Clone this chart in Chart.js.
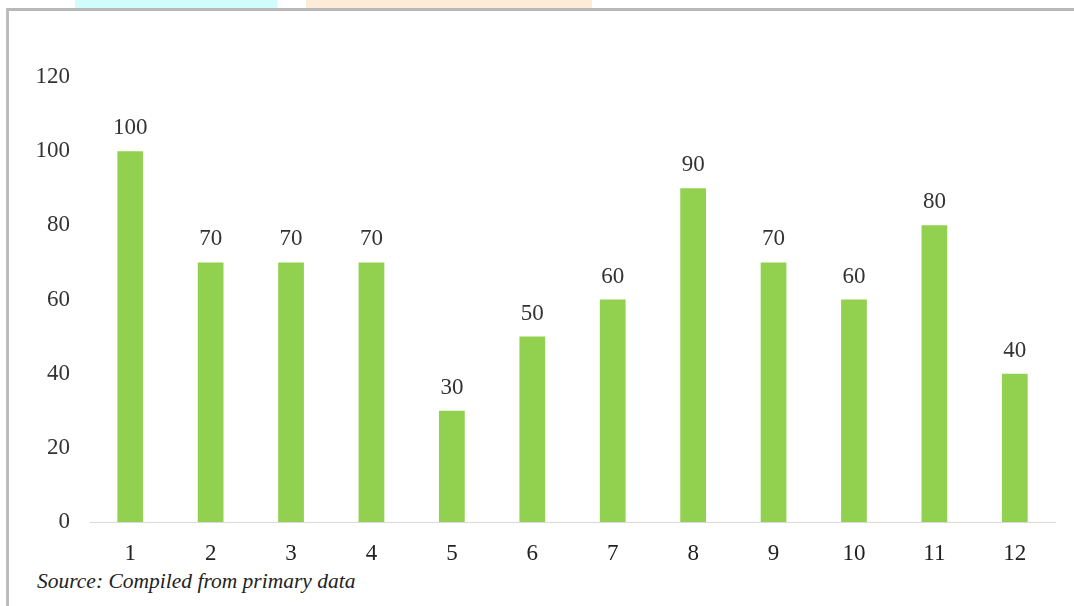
<!DOCTYPE html>
<html>
<head>
<meta charset="utf-8">
<script src="https://cdn.jsdelivr.net/npm/chart.js@4/dist/chart.umd.min.js"></script>
<style>
  html, body { margin: 0; padding: 0; background: #fff; }
  #wrap { position: relative; width: 1074px; height: 606px; overflow: hidden; }
  #frame { position: absolute; left: 6px; top: 8px; right: -4px; bottom: -4px;
           border-left: 3px solid #bdbdbd; border-top: 3px solid #b8b8b8; }
  .mark { position: absolute; top: 0; height: 8px; }
  #chart { position: absolute; left: 0; top: 0; }
  #source { position: absolute; left: 30px; top: 562px; width: 340px; height: 36px;
            background: #fff; padding-left: 7px;
            font: italic 21.5px "Liberation Serif", serif; color: #222; line-height: 38px; }
</style>
</head>
<body>
<div id="wrap">
  <div class="mark" style="left:75px;width:202px;background:#d0fcfc"></div>
  <div class="mark" style="left:306px;width:286px;background:#fdecd8"></div>
  <div id="frame"></div>
  <canvas id="chart" width="1074" height="606"></canvas>
  <div id="source">Source: Compiled from primary data</div>
</div>
<script>
const categories = ["1", "2", "3", "4", "5", "6", "7", "8", "9", "10", "11", "12"];
const values = [100, 70, 70, 70, 30, 50, 60, 90, 70, 60, 80, 40];
const yTicks = [0, 20, 40, 60, 80, 100, 120];

const FONT = "Liberation Serif";

// value labels above each bar
const barLabels = {
  id: "barLabels",
  afterDatasetsDraw(chart) {
    const ctx = chart.ctx;
    const meta = chart.getDatasetMeta(0);
    ctx.save();
    ctx.font = `23px "${FONT}"`;
    ctx.fillStyle = "#333";
    ctx.textAlign = "center";
    ctx.textBaseline = "alphabetic";
    meta.data.forEach((bar, i) => {
      ctx.fillText(String(values[i]), bar.x, bar.y - 17);
    });
    ctx.restore();
  },
};

new Chart(document.getElementById("chart"), {
  type: "bar",
  data: {
    labels: categories,
    datasets: [
      {
        data: values,
        backgroundColor: "#92d050",
        barPercentage: 0.32,
        categoryPercentage: 1,
      },
    ],
  },
  options: {
    responsive: false,
    animation: false,
    layout: { padding: { left: 20, right: 19, top: 77, bottom: 0 } },
    plugins: { legend: { display: false }, tooltip: { enabled: false } },
    scales: {
      x: {
        grid: { display: false, drawTicks: false },
        border: { color: "#d9d9d9", width: 1 },
        ticks: { color: "#222", font: { family: FONT, size: 23 }, padding: 18, maxRotation: 0 },
        afterFit: (s) => { s.height = 84; },
      },
      y: {
        min: 0,
        max: 120,
        afterBuildTicks: (s) => { s.ticks = yTicks.map((v) => ({ value: v })); },
        grid: { display: false, drawTicks: false },
        border: { display: false },
        ticks: { color: "#333", font: { family: FONT, size: 23 }, padding: 20 },
        afterFit: (s) => { s.width = 70; },
      },
    },
  },
  plugins: [barLabels],
});
</script>
</body>
</html>
